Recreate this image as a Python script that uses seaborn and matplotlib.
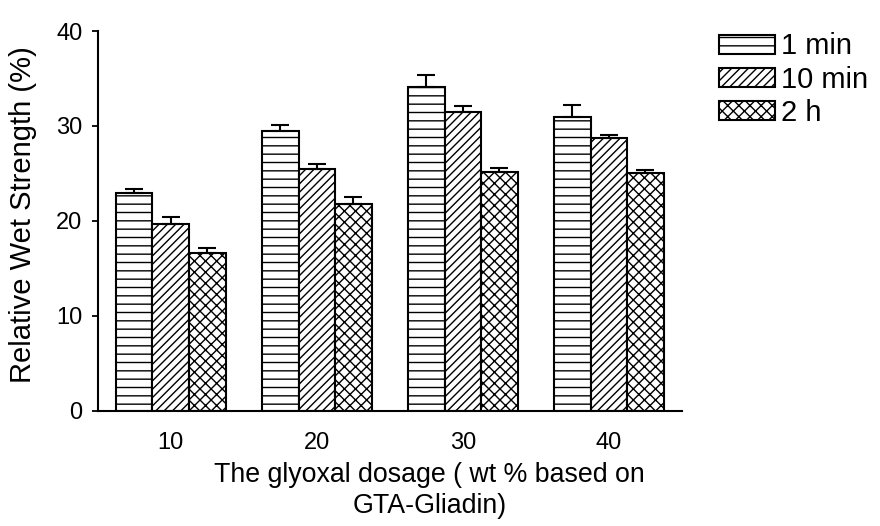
import pandas as pd
import matplotlib
matplotlib.use("Agg")
import matplotlib.pyplot as plt
import seaborn as sns

# values
dosages = ["10", "20", "30", "40"]
times = ["1 min", "10 min", "2 h"]
strength_1min = [22.9, 29.5, 34.1, 30.9]
strength_10min = [19.7, 25.5, 31.5, 28.7]
strength_2h = [16.6, 21.8, 25.2, 25.0]
err_1min = [0.5, 0.6, 1.3, 1.3]
err_10min = [0.7, 0.5, 0.6, 0.4]
err_2h = [0.6, 0.7, 0.4, 0.4]

hatches = ["--", "////", "xxx"]

sns.set_style("ticks")
plt.rcParams["font.family"] = ["Liberation Sans", "DejaVu Sans"]
plt.rcParams.update({
    "hatch.linewidth": 1.0,
    "text.color": "black",
    "axes.labelcolor": "black",
    "axes.edgecolor": "black",
    "xtick.color": "black",
    "ytick.color": "black",
})

df = pd.DataFrame({
    "dosage": dosages * 3,
    "time": [t for t in times for _ in dosages],
    "value": strength_1min + strength_10min + strength_2h,
})
errors = err_1min + err_10min + err_2h

fig = plt.figure(figsize=(8.8, 5.26), dpi=100)
ax = fig.add_axes([0.111, 0.219, 0.664, 0.722])

sns.barplot(data=df, x="dosage", y="value", hue="time", order=dosages,
            hue_order=times, width=0.75, palette=["white"] * 3,
            edgecolor="black", linewidth=1.5, errorbar=None, legend=False, ax=ax)

bar_groups = list(ax.containers)
for container, hatch in zip(bar_groups, hatches):
    for bar in container:
        bar.set_hatch(hatch)

# upward-only error bars
xs = [b.get_x() + b.get_width() / 2 for c in bar_groups for b in c]
ys = [b.get_height() for c in bar_groups for b in c]
ax.errorbar(xs, ys, yerr=[[0] * len(errors), errors], fmt="none",
            ecolor="black", elinewidth=1.5, capsize=6.5, capthick=1.5)

ax.set_xlim(-0.5, 3.5)
ax.set_ylim(0, 40)
ax.set_yticks([0, 10, 20, 30, 40])
ax.tick_params(axis="y", labelsize=17, length=4, width=1.3, pad=7)
ax.tick_params(axis="x", labelsize=17, length=0, pad=15)
for s in ["left", "bottom"]:
    ax.spines[s].set_linewidth(1.5)
sns.despine(ax=ax)

ax.set_ylabel("Relative Wet Strength (%)", fontsize=21)
ax.yaxis.set_label_coords(-0.104, 0.516)
ax.set_xlabel("The glyoxal dosage ( wt % based on\nGTA-Gliadin)", fontsize=19.3,
              linespacing=1.25)
ax.xaxis.set_label_coords(0.568, -0.136)
ax.xaxis.label.set_verticalalignment("top")

handles = [c.patches[0] for c in bar_groups]
fig.legend(handles, times, loc="upper left", bbox_to_anchor=(0.80, 0.966),
           frameon=False, fontsize=21, handlelength=1.95, handleheight=0.62,
           handletextpad=0.2, labelspacing=0.18, borderpad=0)

plt.savefig("out.png", dpi=100)
plt.close()
